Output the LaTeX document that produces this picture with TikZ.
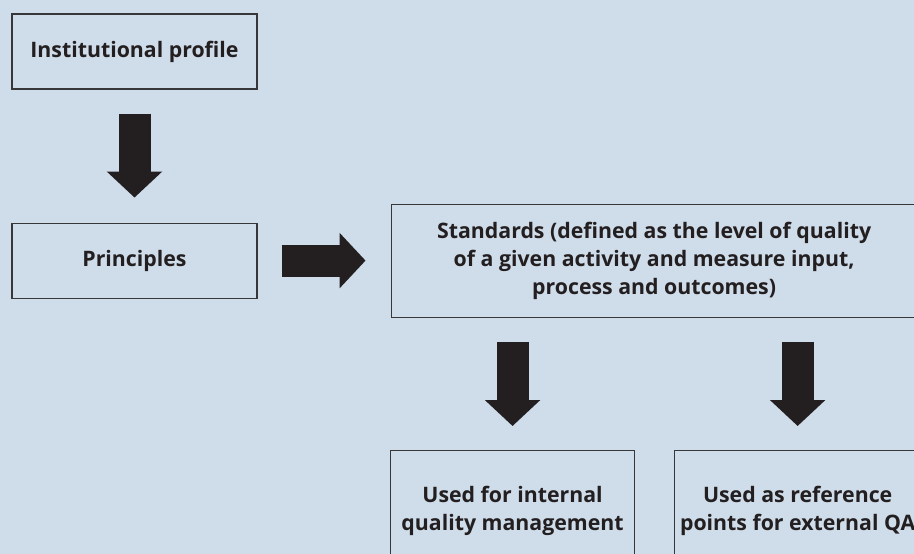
\documentclass[tikz,border=0pt]{standalone}
\usepackage{fontspec}
\setmainfont{Open Sans}
\usepackage{xcolor}
\usetikzlibrary{
  positioning,
  arrows.meta}
\definecolor{bgblue}{RGB}{207,220,233}
\definecolor{inkblack}{RGB}{35,31,32}
\definecolor{boxgray}{RGB}{55,55,58}
\tikzset{every picture/.style={font issue=\bfseries\fontsize{21.3}{28}},
         font issue/.style={execute at begin picture={#1\selectfont}}
        }

\begin{document}
\begin{tikzpicture}[x=1pt,y=-1pt,
    box/.style={draw=boxgray, line width=1.1pt, align=center, inner sep=0pt, text=inkblack},
    blockarrow/.style={draw=inkblack, line width=32pt, -{Triangle[length=26pt,width=54pt]}}]
    \fill[bgblue] (0,0) rectangle (914,554);
    \useasboundingbox (0,0) rectangle (914,554);

    \node[box, minimum width=245pt, minimum height=75pt] at (134.5,51.5) (profile){Institutional profile};
    \node[box, minimum width=245pt, minimum height=75pt, below = 133pt of profile](principles){Principles};
        \node[box, minimum width=526pt, minimum height=113pt, right = 133pt of principles](standards){Standards (defined as the level of quality\\of a given activity and measure input,\\process and outcomes)};
                \node[box, minimum width=244pt, minimum height=121pt, anchor=north west] at (390,450) (internal){Used for internal\\quality management};
                                \node[box, minimum width=246pt, minimum height=121pt, right = 39pt of internal](external){Used as reference\\points for external QA};

    
    \coordinate[below = 24pt of profile] (a_1);
        \coordinate[above = 25pt of principles] (a_2);
    \coordinate[right = 24pt of principles] (b_1);
        \coordinate[left = 25pt of standards] (b_2);
    \coordinate (c_0) at (internal.north |- standards.south);
        \coordinate[below = 24pt of c_0] (c_1);
        \coordinate[above = 24pt of internal] (c_2);
    \coordinate (d_0) at (external.north |- standards.south);
        \coordinate[below = 24pt of d_0] (d_1);
        \coordinate[above = 24pt of external] (d_2);

    
    \draw[blockarrow] (a_1) -- (a_2);
        \draw[blockarrow] (b_1) -- (b_2);
                \draw[blockarrow] (c_1) -- (c_2);
                \draw[blockarrow] (d_1) -- (d_2);
    \end{tikzpicture}
\end{document}
